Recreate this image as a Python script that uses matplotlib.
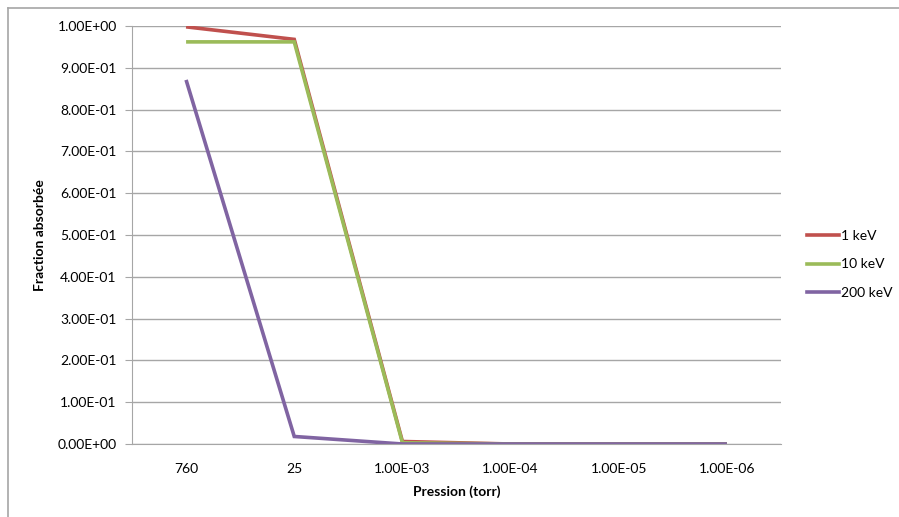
import matplotlib
matplotlib.use("Agg")
import matplotlib.pyplot as plt
from matplotlib.lines import Line2D

categories = ["760", "25", "1.00E-03", "1.00E-04", "1.00E-05", "1.00E-06"]
kev1 = [0.998, 0.968, 0.006, 0.0, 0.0, 0.0]
kev10 = [0.962, 0.962, 0.003, 0.0, 0.0, 0.0]
kev200 = [0.871, 0.018, 0.0, 0.0, 0.0, 0.0]
series_names = ["1 keV", "10 keV", "200 keV"]
colors = ["#C0504D", "#9BBB59", "#8064A2"]
yticks = [i / 10 for i in range(11)]

plt.rcParams['font.family'] = ['Lato', 'DejaVu Sans']
FS = 10

W, H = 899, 517
fig = plt.figure(figsize=(W / 100, H / 100), dpi=100)
ax = fig.add_axes([132 / W, 1 - 444 / H, (781 - 132) / W, (444 - 26) / H])

x = list(range(len(categories)))
for vals, c, n in zip([kev1, kev10, kev200], colors, series_names):
    ax.plot(x, vals, color=c, lw=2.6, label=n, solid_capstyle='butt', solid_joinstyle='miter')

ax.set_xlim(-0.5, len(categories) - 0.5)
ax.set_ylim(0, 1.0)
ax.set_yticks(yticks)
ax.set_yticklabels([f"{v:.2E}" for v in yticks], fontsize=FS)
ax.set_xticks(x)
ax.set_xticklabels(categories, fontsize=FS)
ax.grid(axis='y', color='#A6A6A6', lw=1)
ax.set_axisbelow(True)
for s in ['top', 'right']:
    ax.spines[s].set_visible(False)
ax.spines['left'].set_color('#A6A6A6')
ax.spines['bottom'].set_color('#A6A6A6')
ax.tick_params(axis='y', length=5, color='#A6A6A6', pad=6)
ax.tick_params(axis='x', length=0, pad=14)
ax.set_xlabel("Pression (torr)", fontsize=FS, fontweight='bold', labelpad=7)
ax.set_ylabel("Fraction absorbée", fontsize=FS, fontweight='bold', labelpad=8)

handles = [Line2D([0], [0], color=c, lw=2.6) for c in colors]
fig.legend(handles, series_names, loc='upper left', bbox_to_anchor=(797 / W, 1 - 220 / H),
           frameon=False, fontsize=FS, handlelength=2.3, handletextpad=0.2, labelspacing=1.2,
           borderpad=0.2)

# chart border
fig.add_artist(Line2D([8 / W, 1], [1 - 8 / H, 1 - 8 / H], color='#A6A6A6', lw=1.2))
fig.add_artist(Line2D([8 / W, 8 / W], [0, 1 - 8 / H], color='#A6A6A6', lw=1.2))

fig.savefig("out.png", dpi=100)
